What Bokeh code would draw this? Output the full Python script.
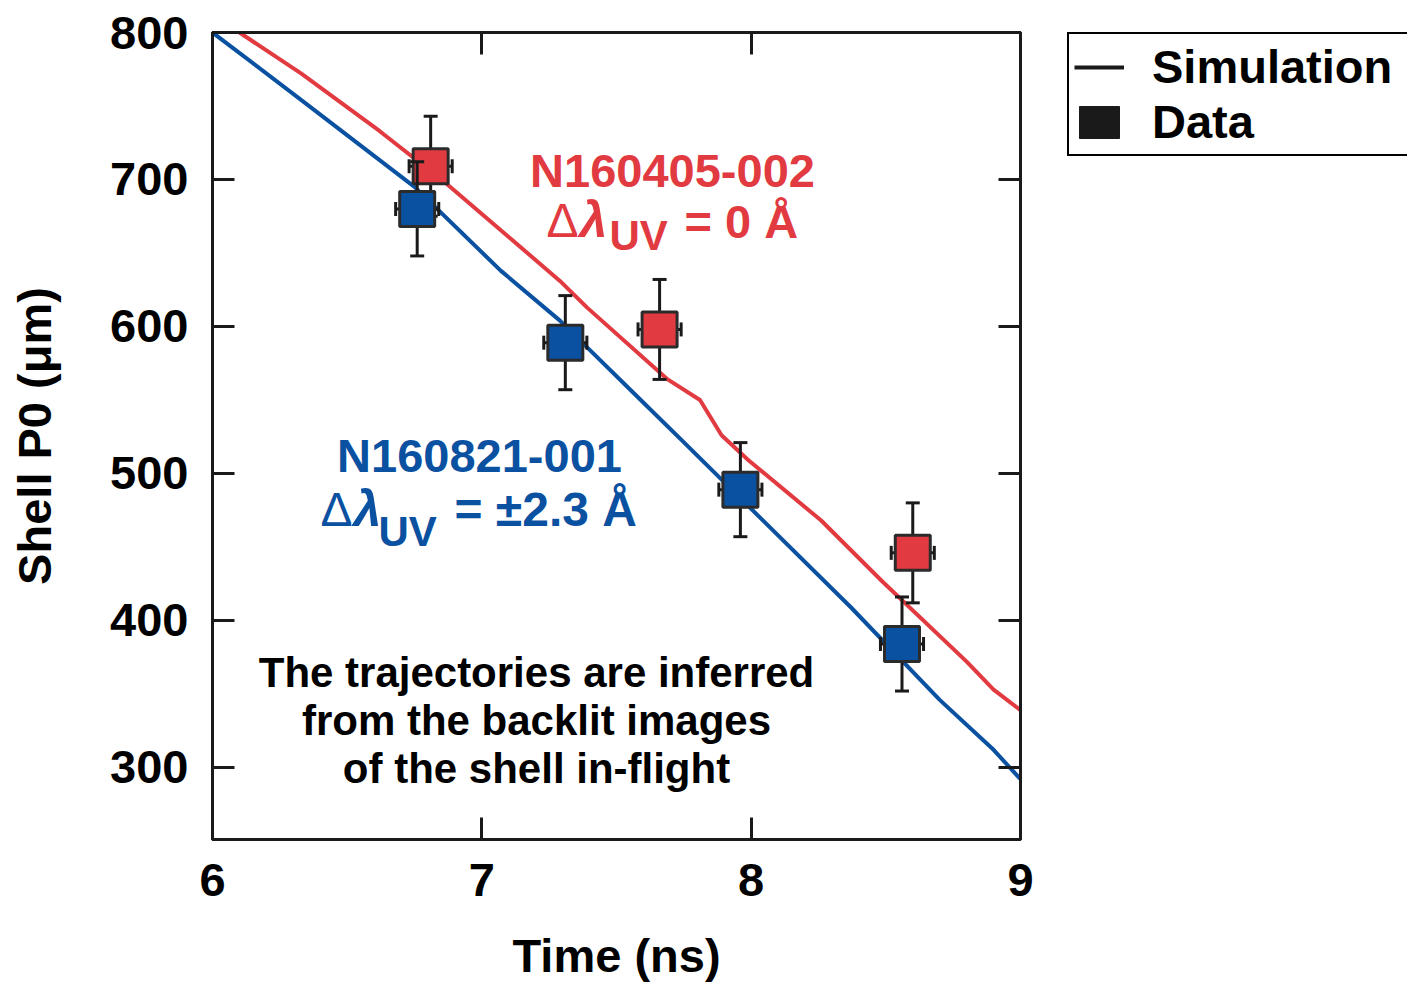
from bokeh.plotting import figure
from bokeh.layouts import row
from bokeh.models import Range1d, LinearAxis, FixedTicker, Legend, LegendItem, Label
from bokeh.embed import file_html
from bokeh.resources import INLINE
import numpy as np

# ---------------- data ----------------
sim_red_t = [6.10, 6.33, 6.62, 6.87, 7.29, 7.39, 7.69, 7.81, 7.89, 7.99, 8.26, 8.49, 8.80, 8.90, 9.00]
sim_red_r = [800, 772, 733, 697, 631, 613, 564, 550, 526, 509, 468, 426, 372, 353, 339]
sim_blue_t = [6.00, 6.33, 6.75, 7.07, 7.29, 7.39, 7.59, 7.74, 8.37, 8.70, 8.90, 9.00]
sim_blue_r = [800, 754, 695, 638, 604, 586, 550, 523, 409, 346, 312, 292]

red_t = [6.81, 7.66, 8.60]
red_r = [709, 598, 446]
red_rerr = [34, 34, 34]
red_terr = [0.08, 0.08, 0.08]

blue_t = [6.76, 7.31, 7.96, 8.56]
blue_r = [680, 589, 489, 384]
blue_rerr = [32, 32, 32, 32]
blue_terr = [0.08, 0.08, 0.08, 0.08]

x_ticks = [6, 7, 8, 9]
y_ticks = [300, 400, 500, 600, 700, 800]

legend_labels = ["Simulation", "Data"]

RED = "#E13B41"
BLUE = "#0B51A1"
DARK = "#1a1a1a"
FONT = "Liberation Sans"

MAIN_W = 1035
p = figure(width=MAIN_W, height=984, output_backend="svg", toolbar_location=None,
           x_range=Range1d(6, 9), y_range=Range1d(251, 800),
           min_border_left=212, min_border_right=MAIN_W - 1020, min_border_top=32, min_border_bottom=144)
p.grid.visible = False
p.outline_line_color = DARK
p.outline_line_width = 3
p.background_fill_color = "white"
p.border_fill_color = "white"

def style_axis(ax, ticks, show_labels=True):
    ax.ticker = FixedTicker(ticks=ticks)
    ax.axis_line_color = DARK
    ax.axis_line_width = 3
    ax.major_tick_line_color = DARK
    ax.major_tick_line_width = 3
    ax.major_tick_in = 22
    ax.major_tick_out = 0
    ax.minor_tick_line_color = None
    ax.major_label_text_font = FONT
    ax.major_label_text_font_style = "bold"
    ax.major_label_text_color = "black"
    if show_labels:
        ax.major_label_text_font_size = "47px"
    else:
        ax.major_label_text_font_size = "1px"
        ax.major_label_overrides = {t: "" for t in ticks}
        ax.major_label_standoff = 0

xa = p.xaxis[0]
ya = p.yaxis[0]
style_axis(xa, x_ticks)
style_axis(ya, y_ticks)
xa.major_label_standoff = 24
ya.major_label_standoff = 24
xa.axis_label = "Time (ns)"
ya.axis_label = "Shell P0 (μm)"
for ax in (xa, ya):
    ax.axis_label_text_font = FONT
    ax.axis_label_text_font_style = "bold"
    ax.axis_label_text_font_size = "47px"
    ax.axis_label_text_color = "black"
xa.axis_label_standoff = 30
ya.axis_label_standoff = 46

top_ax = LinearAxis()
style_axis(top_ax, x_ticks, show_labels=False)
p.add_layout(top_ax, "above")
right_ax = LinearAxis()
style_axis(right_ax, y_ticks, show_labels=False)
p.add_layout(right_ax, "right")

# ---------------- simulation curves ----------------
p.line(sim_blue_t, sim_blue_r, line_color=BLUE, line_width=4)
p.line(sim_red_t, sim_red_r, line_color=RED, line_width=4)

# ---------------- data with error bars ----------------
def draw_points(t, r, rerr, terr, color):
    t = np.array(t); r = np.array(r); rerr = np.array(rerr); terr = np.array(terr)
    p.segment(t, r - rerr, t, r + rerr, line_color=DARK, line_width=3)
    p.segment(t - terr, r, t + terr, r, line_color=DARK, line_width=3)
    p.scatter(np.concatenate([t, t]), np.concatenate([r - rerr, r + rerr]),
              marker="dash", size=14, line_color=DARK, line_width=3)
    p.scatter(np.concatenate([t - terr, t + terr]), np.concatenate([r, r]),
              marker="dash", size=14, angle=np.pi / 2, line_color=DARK, line_width=3)
    p.scatter(t, r, marker="square", size=35, fill_color=color, line_color="#2b2b2b", line_width=3)

draw_points(red_t, red_r, red_rerr, red_terr, RED)
draw_points(blue_t, blue_r, blue_rerr, blue_terr, BLUE)

# ---------------- annotations (pixel positions converted to data) ----------------
def fx(px):
    return 6 + (px - 212) / (808 / 3)

def fy(py):
    return 800 - (py - 32) / (736 / 500)

def lab(px, py, text, color, size, style="bold", align="left"):
    py = py - 0.36 * size  # compensate baseline rendering
    p.add_layout(Label(x=fx(px), y=fy(py), text=text, text_color=color, text_font=FONT,
                       text_font_size=f"{size}px", text_font_style=style,
                       text_align=align, text_baseline="alphabetic"))

# red shot
lab(672, 187, "N160405-002", RED, 47, align="center")
lab(546, 238, "Δ", RED, 48, style="normal")
lab(579, 238, "λ", RED, 50, style="bold italic")
lab(609, 250, "UV", RED, 42)
lab(684, 238, "= 0 Å", RED, 47)

# blue shot
lab(479, 473, "N160821-001", BLUE, 47, align="center")
lab(320, 527, "Δ", BLUE, 48, style="normal")
lab(353, 527, "λ", BLUE, 50, style="bold italic")
lab(378, 547, "UV", BLUE, 42)
lab(454, 527, "= ±2.3 Å", BLUE, 48)

# note
lab(536, 688, "The trajectories are inferred", "black", 42, align="center")
lab(536, 736, "from the backlit images", "black", 42, align="center")
lab(536, 784, "of the shell in-flight", "black", 42, align="center")

# ---------------- legend panel ----------------
LEG_W = 1407 - MAIN_W
q = figure(width=LEG_W, height=984, output_backend="svg", toolbar_location=None,
           x_range=Range1d(0, 1), y_range=Range1d(0, 1),
           x_axis_location=None, y_axis_location=None,
           min_border_left=0, min_border_right=0, min_border_top=0, min_border_bottom=0)
q.grid.visible = False
q.outline_line_color = None
q.background_fill_color = "white"
q.border_fill_color = "white"
# legend-only proxies, placed outside the visible range
sim_dummy = q.line([-2, -1], [-2, -1], line_color=DARK, line_width=4)
dat_dummy = q.quad(left=[-2], right=[-1], top=[-1], bottom=[-2], fill_color=DARK, line_color=DARK)
legend = Legend(items=[LegendItem(label=legend_labels[0], renderers=[sim_dummy]),
                       LegendItem(label=legend_labels[1], renderers=[dat_dummy])],
                location=(1067 - MAIN_W, 840 - 157), orientation="vertical",
                label_text_font=FONT, label_text_font_style="bold", label_text_font_size="47px",
                label_text_color="black", label_standoff=28, label_width=262,
                glyph_width=50, glyph_height=40, spacing=-14, padding=5, margin=0,
                border_line_color="black", border_line_width=2, border_line_alpha=1.0,
                background_fill_color="white", background_fill_alpha=1.0)
q.add_layout(legend)

open("out.html", "w").write(file_html(row(p, q), INLINE))
